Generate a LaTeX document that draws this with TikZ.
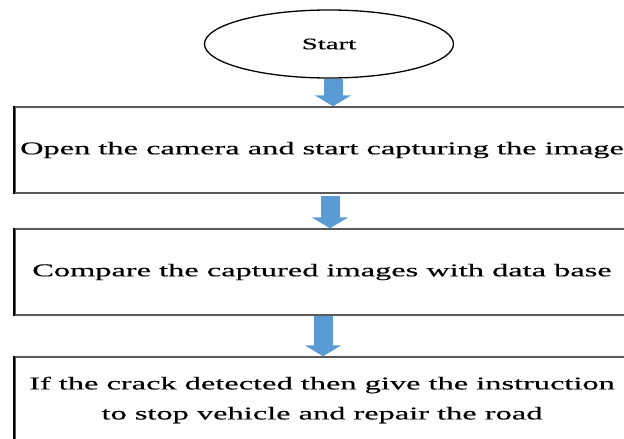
\documentclass[tikz,border=0pt]{standalone}
\usepackage{fontspec}
\setmainfont{Liberation Serif}[FakeStretch=1.8,FakeBold=0.4]
\usetikzlibrary{arrows.meta,shapes.geometric}
\definecolor{arrowblue}{HTML}{5B9BD5}
\tikzset{
  startoval/.style={draw, ellipse, line width=1.3pt, minimum width=249pt, minimum height=68pt, inner sep=0pt, font=\fontsize{16}{18}\selectfont},
  stepbox/.style={draw=black!65, line width=1.4pt, rectangle, minimum width=614pt, minimum height=86pt, inner sep=0pt, align=center, font=\fontsize{18}{30}\selectfont},
  leftedge/.style={line width=2.2pt, black},
  flowarrow/.style={arrowblue, line width=19pt, -{Triangle[length=11pt,width=36pt]}}
}
\begin{document}
\begin{tikzpicture}[x=1pt,y=-1pt]
\clip (0,0) rectangle (624,439);
\node [startoval] (start) at (329,44) {Start};
\node [stepbox] (open) at (322,150) {Open the camera and start capturing the image};
\node [stepbox] (compare) at (322,272) {Compare the captured images with data base};
\node [stepbox] (crack) at (322,400) {If the crack detected then give the instruction\\to stop vehicle and repair the road};
\foreach \b in {open,compare,crack} \draw [leftedge] (\b.north west) -- (\b.south west);
\draw [flowarrow] ([xshift=11pt]open.north |- start.south) -- ([xshift=11pt]open.north);
\draw [flowarrow] ([xshift=8pt,yshift=-2pt]open.south) -- ([xshift=8pt]compare.north);
\draw [flowarrow] ([xshift=1pt]compare.south) -- ([xshift=1pt]crack.north);
\end{tikzpicture}
\end{document}
